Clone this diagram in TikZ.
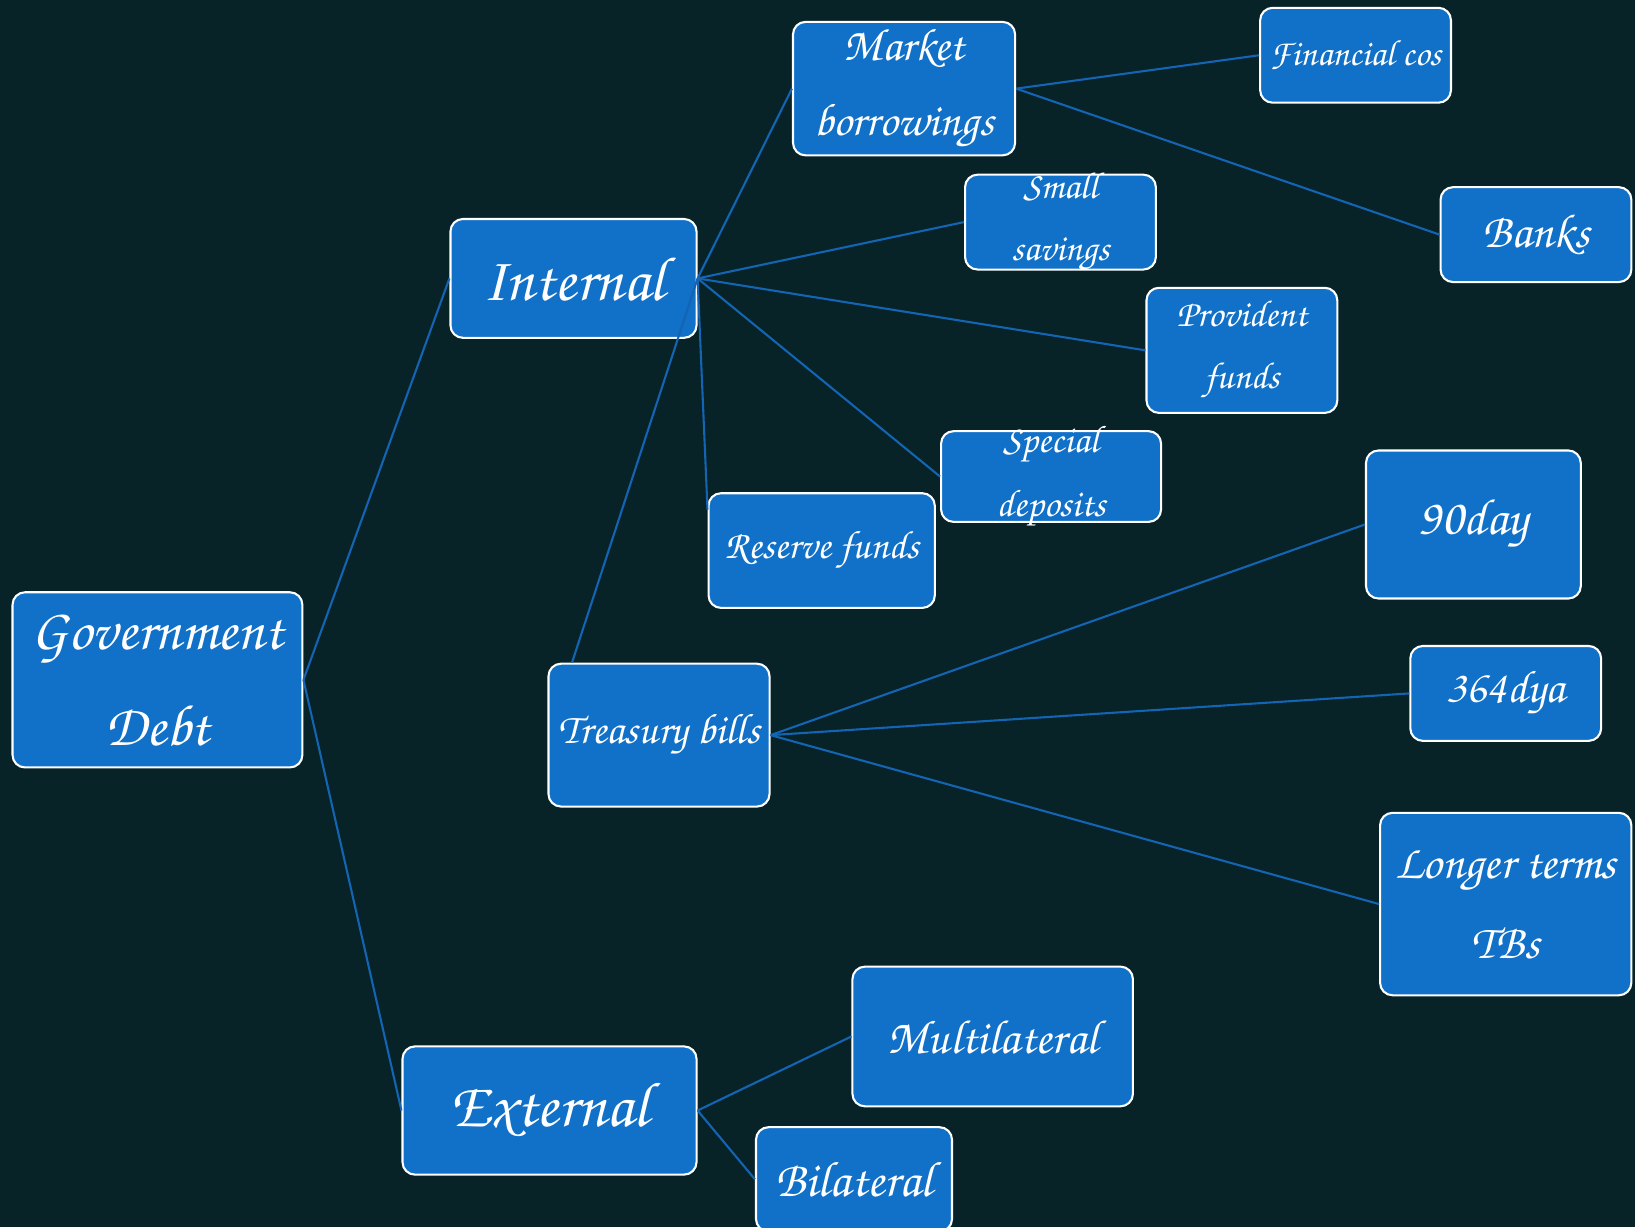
\documentclass[tikz,border=0pt]{standalone}
\usepackage[T1]{fontenc}
\usetikzlibrary{calc}
\newcommand{\hwfont}[1]{\fontfamily{pzc}\fontseries{mb}\fontshape{it}\fontsize{#1}{1.65\dimexpr#1pt\relax}\selectfont}
\definecolor{bgc}{HTML}{072328}
\definecolor{nodeblue}{HTML}{1170C7}
\definecolor{linkblue}{HTML}{1464B4}
\tikzset{
  box/.style={draw=white, line width=2pt, fill=nodeblue, rounded corners=12pt,
    text=white, align=center, inner sep=0pt},
  overflow/.style={inner ysep=-20pt},
  link/.style={draw=linkblue, line width=2pt}
}
\begin{document}
\begin{tikzpicture}[x=1pt,y=-1pt]
\fill[bgc] (0,0) rectangle (1568,1177);
\useasboundingbox (0,0) rectangle (1568,1177);
\clip (0,0) rectangle (1568,1177);
\node[box, minimum width=278pt, minimum height=168pt, font=\hwfont{56}] (gd) at (151,652) {Government\\Debt};
\node[box, minimum width=236pt, minimum height=114pt, font=\hwfont{60}] (int) at (550,267) {Internal};
\node[box, minimum width=282pt, minimum height=123pt, font=\hwfont{61}] (ext) at (527,1065) {External};
\node[box, overflow, minimum width=213pt, minimum height=128pt, font=\hwfont{44}] (mb) at (867,85) {Market\\borrowings};
\node[box, minimum width=183pt, minimum height=91pt, font=\hwfont{35}] (fc) at (1300,53) {Financial cos};
\node[box, minimum width=183pt, minimum height=91pt, font=\hwfont{46}] (bk) at (1473,225) {Banks};
\node[box, overflow, minimum width=183pt, minimum height=91pt, font=\hwfont{36}] (ss) at (1017,213) {Small\\savings};
\node[box, overflow, minimum width=183pt, minimum height=120pt, font=\hwfont{36}] (pf) at (1191,336) {Provident\\funds};
\node[box, overflow, minimum width=211pt, minimum height=87pt, font=\hwfont{37}] (sd) at (1008,457) {Special\\deposits};
\node[box, minimum width=217pt, minimum height=110pt, font=\hwfont{38}] (rf) at (788,528) {Reserve funds};
\node[box, minimum width=212pt, minimum height=137pt, font=\hwfont{41}] (tb) at (632,705) {Treasury bills};
\node[box, minimum width=206pt, minimum height=142pt, font=\hwfont{49}] (nd) at (1413,503) {90day};
\node[box, minimum width=183pt, minimum height=91pt, font=\hwfont{44}] (td) at (1444,665) {364dya};
\node[box, minimum width=241pt, minimum height=175pt, font=\hwfont{46}] (lt) at (1444,867) {Longer terms\\TBs};
\node[box, minimum width=269pt, minimum height=134pt, font=\hwfont{46}] (ml) at (952,994) {Multilateral};
\node[box, minimum width=188pt, minimum height=100pt, font=\hwfont{48}] (bl) at (819,1131) {Bilateral};
\draw[link] (gd.east) -- (int.west);
\draw[link] (gd.east) -- (ext.west);
\draw[link] (int.east) -- (mb.west);
\draw[link] (int.east) -- (ss.west);
\draw[link] (int.east) -- (pf.west);
\draw[link] (int.east) -- (sd.west);
\draw[link] (int.east) -- ($(rf.north west)!0.15!(rf.south west)$);
\draw[link] (int.east) -- ($(tb.north west)!0.11!(tb.north east)$);
\draw[link] (mb.east) -- (fc.west);
\draw[link] (mb.east) -- (bk.west);
\draw[link] (tb.east) -- (nd.west);
\draw[link] (tb.east) -- (td.west);
\draw[link] (tb.east) -- (lt.west);
\draw[link] (ext.east) -- (ml.west);
\draw[link] (ext.east) -- (bl.west);
\end{tikzpicture}
\end{document}
